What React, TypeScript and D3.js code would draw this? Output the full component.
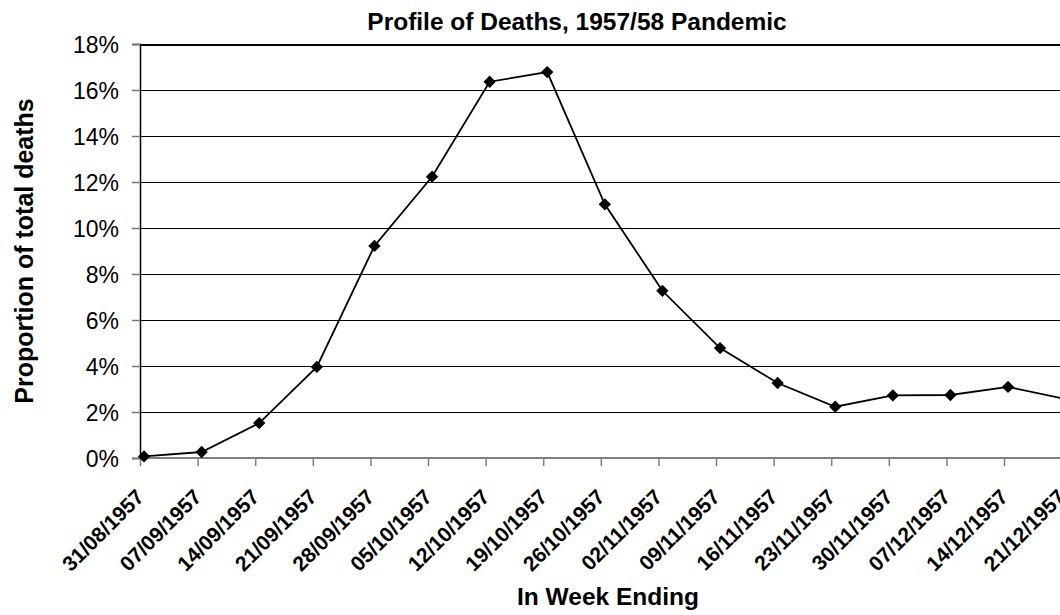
import * as d3 from "d3";
import { useEffect, useRef } from "react";

// week ending labels
const weeks = [
  "31/08/1957",
  "07/09/1957",
  "14/09/1957",
  "21/09/1957",
  "28/09/1957",
  "05/10/1957",
  "12/10/1957",
  "19/10/1957",
  "26/10/1957",
  "02/11/1957",
  "09/11/1957",
  "16/11/1957",
  "23/11/1957",
  "30/11/1957",
  "07/12/1957",
  "14/12/1957",
  "21/12/1957",
];

// proportion of total deaths, percent
const deaths = [
  0.07, 0.26, 1.52, 3.96, 9.22, 12.23, 16.36, 16.78, 11.03, 7.27, 4.78, 3.26,
  2.23, 2.72, 2.74, 3.09, 2.56,
];

const yTicks = [0, 2, 4, 6, 8, 10, 12, 14, 16, 18];

const font = "'Liberation Sans', Arial, sans-serif";

function App() {
  const ref = useRef<SVGSVGElement | null>(null);

  useEffect(() => {
    const width = 1060;
    const height = 615;
    const margin = { top: 44, left: 140, bottom: 157 };
    const step = 57.6;

    const svg = d3.select(ref.current);
    svg.selectAll("*").remove();

    const xScale = d3
      .scaleLinear()
      .domain([0, weeks.length - 1])
      .range([margin.left, margin.left + step * (weeks.length - 1)]);

    const yScale = d3
      .scaleLinear()
      .domain([0, 18])
      .range([height - margin.bottom, margin.top]);

    // points sit a little to the right of the tick marks
    const pointX = (i: number) => xScale(i + 0.07);

    // gridlines
    svg
      .append("g")
      .selectAll("line")
      .data(yTicks.filter((d) => d > 0))
      .enter()
      .append("line")
      .attr("x1", margin.left)
      .attr("x2", width)
      .attr("y1", (d) => Math.round(yScale(d)) + 0.5)
      .attr("y2", (d) => Math.round(yScale(d)) + 0.5)
      .attr("stroke", "#000")
      .attr("stroke-width", (d) => (d === 18 ? 2 : 1))
      .attr("shape-rendering", "crispEdges");

    // y axis
    const yAxis = svg
      .append("g")
      .attr("transform", `translate(${margin.left},0)`)
      .call(
        d3
          .axisLeft(yScale)
          .tickValues(yTicks)
          .tickSize(8)
          .tickPadding(13)
          .tickFormat((d) => `${d}%`)
      );
    yAxis.select(".domain").attr("stroke", "#000").attr("stroke-width", 1.5);
    yAxis.selectAll(".tick line").attr("stroke", "#777").attr("stroke-width", 1.5);
    yAxis
      .selectAll("text")
      .attr("fill", "#000")
      .attr("font-size", 23)
      .attr("font-family", font)
      .attr("dy", "0.36em");

    // x axis
    const xAxis = svg
      .append("g")
      .attr("transform", `translate(0,${yScale(0)})`)
      .call(
        d3
          .axisBottom(xScale)
          .tickValues(d3.range(weeks.length))
          .tickSize(8)
          .tickFormat(() => "")
      );
    xAxis
      .select(".domain")
      .attr("d", `M${margin.left},0H${width}`)
      .attr("stroke", "#808080")
      .attr("stroke-width", 2);
    xAxis.selectAll(".tick line").attr("stroke", "#808080").attr("stroke-width", 1.5);

    // rotated date labels
    svg
      .append("g")
      .selectAll("text")
      .data(weeks)
      .enter()
      .append("text")
      .attr("transform", (d, i) => `translate(${xScale(i)},${yScale(0) + 35}) rotate(-45)`)
      .attr("text-anchor", "end")
      .attr("dy", "0.35em")
      .attr("font-size", 21)
      .attr("font-weight", "bold")
      .attr("font-family", font)
      .attr("fill", "#000")
      .text((d) => d);

    // line
    const line = d3
      .line<number>()
      .x((d, i) => pointX(i))
      .y((d) => yScale(d))
      .curve(d3.curveLinear);

    svg
      .append("path")
      .datum(deaths)
      .attr("fill", "none")
      .attr("stroke", "#000")
      .attr("stroke-width", 1.8)
      .attr("d", line);

    // diamond markers
    const diamond = d3.symbol().type(d3.symbolSquare).size(76);
    svg
      .append("g")
      .selectAll("path")
      .data(deaths)
      .enter()
      .append("path")
      .attr("d", diamond)
      .attr("fill", "#000")
      .attr("transform", (d, i) => `translate(${pointX(i)},${yScale(d)}) rotate(45)`);

    // titles
    svg
      .append("text")
      .attr("x", 577)
      .attr("y", 30)
      .attr("text-anchor", "middle")
      .attr("font-size", 24.5)
      .attr("font-weight", "bold")
      .attr("font-family", font)
      .text("Profile of Deaths, 1957/58 Pandemic");

    svg
      .append("text")
      .attr("x", 608)
      .attr("y", 605)
      .attr("text-anchor", "middle")
      .attr("font-size", 24.5)
      .attr("font-weight", "bold")
      .attr("font-family", font)
      .text("In Week Ending");

    svg
      .append("text")
      .attr("transform", "translate(33,251) rotate(-90)")
      .attr("text-anchor", "middle")
      .attr("font-size", 25)
      .attr("font-weight", "bold")
      .attr("font-family", font)
      .text("Proportion of total deaths");
  }, []);

  return (
    <svg
      ref={ref}
      width={1060}
      height={615}
      style={{ position: "absolute", left: 0, top: 0, background: "#fff" }}
    />
  );
}

export default App;
